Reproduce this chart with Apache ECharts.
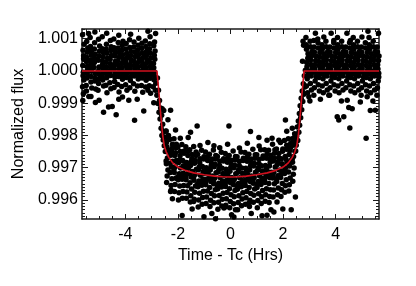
<!DOCTYPE html>
<html><head><meta charset="utf-8">
<script src="https://cdn.jsdelivr.net/npm/echarts@6/dist/echarts.min.js"></script>
<style>html,body{margin:0;padding:0;background:#fff}#c{width:416px;height:286px}</style>
</head><body><div id="c"></div>
<script>
// ---- tick labels ----
const xTickLabels = [-4, -2, 0, 2, 4];
const yTickLabels = [0.996, 0.997, 0.998, 0.999, 1.000, 1.001];
const xRange = [-5.65, 5.65];
const yRange = [0.99541, 1.0013];

// ---- transit model (red curve) ----
const modelTime = [-5.65,-2.80,-2.72,-2.65,-2.58,-2.52,-2.45,-2.35,-2.2,-2.0,-1.7,-1.4,-1.0,-0.6,-0.3,0,0.3,0.6,1.0,1.4,1.7,2.0,2.2,2.35,2.45,2.52,2.58,2.65,2.72,2.80,5.65];
const modelFlux = [1,1,.99930,.99860,.99800,.99768,.99750,.99732,.99715,.99702,.99691,.99684,.99678,.99674,.99672,.99671,.99672,.99674,.99678,.99684,.99691,.99702,.99715,.99732,.99750,.99768,.99800,.99860,.99930,1,1];

// ---- observed flux: before transit ----
const preTransit = [
[-5.63,1.00112],[-5.61,1.00064],[-5.59,1.00038],[-5.62,1.00017],[-5.60,.99996],[-5.58,.99972],[-5.63,.99951],[-5.60,.99929],[-5.57,1.00083],[-5.62,.99908],[-5.59,1.00047],[-5.61,.99985],
[-5.47,1.00091],[-5.45,1.00058],[-5.48,1.00029],[-5.44,1.00003],[-5.46,.99978],[-5.49,.99955],[-5.43,1.00071],[-5.46,1.00014],[-5.48,.99938],[-5.45,.99991],[-5.47,1.00042],[-5.39,.99921],[-5.40,1.00116],
[-5.33,1.00076],[-5.30,1.00049],[-5.32,1.00021],[-5.29,.99999],[-5.31,.99966],[-5.34,1.00104],[-5.28,.99947],[-5.32,1.00034],[-5.30,.99983],[-5.33,1.00008],[-5.29,1.00062],[-5.31,.99921],
[-5.17,1.00087],[-5.15,1.00052],[-5.18,1.00026],[-5.14,.99992],[-5.16,.99969],[-5.19,1.00011],[-5.13,.99944],[-5.17,1.00039],[-5.15,.99977],[-5.18,1.00068],[-5.14,.99902],[-5.16,1.00121],
[-5.02,1.00098],[-4.99,1.00061],[-5.03,1.00033],[-5.00,1.00012],[-4.98,.99988],[-5.02,.99961],[-5.04,.99940],[-5.00,1.00046],[-4.98,1.00077],[-5.03,.99999],[-5.01,.99975],[-5.00,.99909],
[-4.88,1.00069],[-4.85,1.00044],[-4.87,1.00019],[-4.84,.99994],[-4.86,.99972],[-4.88,1.00106],[-4.83,.99953],[-4.87,1.00031],[-4.85,1.00005],[-4.88,.99984],[-4.84,1.00057],[-4.83,.99872],
[-4.72,1.00083],[-4.70,1.00055],[-4.73,1.00027],[-4.69,1.00001],[-4.71,.99979],[-4.74,.99956],[-4.68,1.00039],[-4.72,1.00013],[-4.70,.99932],[-4.73,1.00068],[-4.69,.99990],[-4.71,1.00117],[-4.64,.99888],
[-4.57,1.00094],[-4.55,1.00063],[-4.58,1.00036],[-4.54,1.00009],[-4.56,.99986],[-4.59,.99963],[-4.53,1.00048],[-4.57,1.00022],[-4.55,.99945],[-4.58,.99998],[-4.54,1.00075],[-4.50,.99890],
[-4.43,1.00072],[-4.40,1.00046],[-4.42,1.00018],[-4.39,.99993],[-4.41,.99967],[-4.44,1.00099],[-4.38,1.00030],[-4.42,1.00006],[-4.40,.99981],[-4.43,.99949],[-4.39,1.00059],[-4.35,.99864],
[-4.27,1.00088],[-4.25,1.00057],[-4.28,1.00032],[-4.24,1.00007],[-4.26,.99983],[-4.29,.99958],[-4.23,1.00043],[-4.27,1.00019],[-4.25,.99994],[-4.28,1.00071],[-4.24,.99935],[-4.25,1.00111],[-4.25,.99912],
[-4.12,1.00079],[-4.10,1.00050],[-4.13,1.00024],[-4.09,.99997],[-4.11,.99974],[-4.14,.99952],[-4.08,1.00037],[-4.12,1.00011],[-4.10,.99986],[-4.13,1.00064],[-4.09,1.00092],[-4.11,.99919],
[-3.97,1.00085],[-3.95,1.00054],[-3.98,1.00028],[-3.94,1.00004],[-3.96,.99980],[-3.99,.99957],[-3.93,1.00041],[-3.97,1.00016],[-3.95,.99991],[-3.98,1.00068],[-3.94,.99940],[-3.87,.99909],
[-3.83,1.00073],[-3.80,1.00047],[-3.82,1.00020],[-3.79,.99995],[-3.81,.99970],[-3.84,1.00097],[-3.78,1.00033],[-3.82,1.00008],[-3.80,.99982],[-3.83,.99948],[-3.79,1.00060],[-3.80,1.00114],
[-3.67,1.00090],[-3.65,1.00059],[-3.68,1.00031],[-3.64,1.00006],[-3.66,.99984],[-3.69,.99960],[-3.63,1.00045],[-3.67,1.00017],[-3.65,.99993],[-3.68,1.00074],[-3.64,.99937],[-3.65,.99847],
[-3.52,1.00080],[-3.50,1.00051],[-3.53,1.00025],[-3.49,.99998],[-3.51,.99975],[-3.54,.99953],[-3.48,1.00038],[-3.52,1.00012],[-3.50,.99987],[-3.53,1.00065],[-3.49,1.00101],[-3.55,.99912],
[-3.37,1.00086],[-3.35,1.00056],[-3.38,1.00029],[-3.34,1.00002],[-3.36,.99978],[-3.39,.99955],[-3.33,1.00042],[-3.37,1.00015],[-3.35,.99990],[-3.38,1.00070],[-3.34,.99934],[-3.30,.99876],
[-3.22,1.00076],[-3.20,1.00048],[-3.23,1.00022],[-3.19,.99996],[-3.21,.99971],[-3.24,1.00093],[-3.18,1.00035],[-3.22,1.00009],[-3.20,.99984],[-3.23,.99950],[-3.19,1.00061],[-3.14,1.00123],[-3.14,.99940],
[-3.07,1.00084],[-3.05,1.00055],[-3.08,1.00027],[-3.04,1.00001],[-3.06,.99977],[-3.09,.99954],[-3.03,1.00040],[-3.07,1.00014],[-3.05,.99989],[-3.08,1.00069],[-3.04,.99931],[-3.06,1.00106],
[-2.92,1.00078],[-2.90,1.00049],[-2.93,1.00023],[-2.89,.99997],[-2.91,.99973],[-2.94,.99951],[-2.88,1.00036],[-2.92,1.00010],[-2.90,.99985],[-2.87,1.00062],[-2.86,.99940],[-2.89,1.00090],[-2.92,.99901],[-2.85,1.00116]
];

// ---- ingress ----
const ingress = [
[-2.84,.99962],[-2.80,.99925],[-2.78,.99978],[-2.76,.99899],[-2.74,.99940],[-2.72,.99872],[-2.70,.99908],[-2.68,.99851],[-2.66,.99885],[-2.64,.99822],[-2.62,.99863],[-2.60,.99883],[-2.61,.99800],[-2.58,.99835],[-2.56,.99786],[-2.55,.99812],[-2.54,.99877],[-2.52,.99768],[-2.50,.99795],[-2.48,.99750],[-2.38,.99849],[-2.28,.99878],[-2.09,.99817],[-2.46,.99813],[-2.44,.99778]
];

// ---- in transit ----
const inTransit = [
[-2.45,.99814],[-2.37,.99787],[-2.42,.99765],[-2.35,.99747],[-2.40,.99730],[-2.44,.99712],[-2.38,.99693],[-2.41,.99674],[-2.36,.99800],[-2.43,.99654],[-2.39,.99756],[-2.45,.99721],
[-2.30,.99788],[-2.22,.99760],[-2.27,.99739],[-2.20,.99720],[-2.25,.99703],[-2.29,.99685],[-2.23,.99666],[-2.26,.99645],[-2.21,.99773],[-2.28,.99626],[-2.24,.99751],[-2.30,.99714],[-2.21,.99604],[-2.26,.99630],
[-2.15,.99790],[-2.07,.99762],[-2.12,.99738],[-2.05,.99719],[-2.10,.99703],[-2.14,.99685],[-2.08,.99667],[-2.11,.99648],[-2.06,.99773],[-2.13,.99626],[-2.09,.99746],[-2.15,.99695],[-2.06,.99722],
[-2.00,.99764],[-1.92,.99737],[-1.97,.99716],[-1.90,.99699],[-1.95,.99681],[-1.99,.99663],[-1.93,.99643],[-1.96,.99622],[-1.91,.99750],[-1.98,.99600],[-1.94,.99724],[-2.00,.99672],[-1.91,.99791],
[-1.85,.99772],[-1.77,.99745],[-1.82,.99722],[-1.75,.99700],[-1.80,.99683],[-1.84,.99664],[-1.78,.99645],[-1.81,.99626],[-1.76,.99752],[-1.83,.99605],[-1.79,.99706],[-1.85,.99671],[-1.84,.99552],
[-1.70,.99765],[-1.62,.99738],[-1.67,.99716],[-1.60,.99698],[-1.65,.99681],[-1.69,.99663],[-1.63,.99644],[-1.66,.99625],[-1.61,.99751],[-1.68,.99605],[-1.64,.99707],[-1.70,.99672],[-1.61,.99794],
[-1.55,.99756],[-1.47,.99728],[-1.52,.99707],[-1.45,.99688],[-1.50,.99671],[-1.54,.99653],[-1.48,.99634],[-1.51,.99613],[-1.46,.99741],[-1.53,.99594],[-1.49,.99719],[-1.55,.99682],[-1.46,.99572],[-1.52,.99810],
[-1.40,.99766],[-1.32,.99738],[-1.37,.99714],[-1.30,.99695],[-1.35,.99679],[-1.39,.99661],[-1.33,.99643],[-1.36,.99624],[-1.31,.99749],[-1.38,.99602],[-1.34,.99722],[-1.40,.99671],[-1.40,.99595],[-1.27,.99829],
[-1.25,.99742],[-1.17,.99715],[-1.22,.99694],[-1.15,.99677],[-1.20,.99659],[-1.24,.99641],[-1.18,.99621],[-1.21,.99600],[-1.16,.99728],[-1.23,.99578],[-1.19,.99702],[-1.25,.99650],[-1.16,.99769],
[-1.10,.99754],[-1.02,.99727],[-1.07,.99704],[-1.00,.99682],[-1.05,.99665],[-1.09,.99646],[-1.03,.99627],[-1.06,.99608],[-1.01,.99734],[-1.08,.99587],[-1.04,.99688],[-1.10,.99653],[-1.01,.99548],
[-0.95,.99749],[-0.87,.99722],[-0.92,.99700],[-0.85,.99682],[-0.90,.99665],[-0.94,.99647],[-0.88,.99628],[-0.91,.99609],[-0.86,.99735],[-0.93,.99589],[-0.89,.99691],[-0.95,.99656],[-0.86,.99778],
[-0.80,.99742],[-0.72,.99714],[-0.77,.99693],[-0.70,.99674],[-0.75,.99657],[-0.79,.99639],[-0.73,.99620],[-0.76,.99599],[-0.71,.99727],[-0.78,.99580],[-0.74,.99705],[-0.80,.99668],[-0.71,.99558],
[-0.65,.99755],[-0.57,.99727],[-0.62,.99703],[-0.55,.99684],[-0.60,.99668],[-0.64,.99650],[-0.58,.99632],[-0.61,.99613],[-0.56,.99738],[-0.63,.99591],[-0.59,.99711],[-0.65,.99660],[-0.57,.99542],[-0.63,.99768],
[-0.50,.99735],[-0.42,.99708],[-0.47,.99687],[-0.40,.99670],[-0.45,.99652],[-0.49,.99634],[-0.43,.99614],[-0.46,.99593],[-0.41,.99721],[-0.48,.99571],[-0.44,.99695],[-0.50,.99643],[-0.41,.99762],
[-0.35,.99748],[-0.27,.99721],[-0.32,.99698],[-0.25,.99676],[-0.30,.99659],[-0.34,.99640],[-0.28,.99621],[-0.31,.99602],[-0.26,.99728],[-0.33,.99581],[-0.29,.99682],[-0.35,.99647],[-0.25,.99575],
[-0.20,.99744],[-0.12,.99717],[-0.17,.99695],[-0.10,.99677],[-0.15,.99660],[-0.19,.99642],[-0.13,.99623],[-0.16,.99604],[-0.11,.99730],[-0.18,.99584],[-0.14,.99686],[-0.20,.99651],[-0.11,.99773],[-0.19,.99579],
[-0.05,.99738],[0.03,.99710],[-0.02,.99689],[0.05,.99670],[0.00,.99653],[-0.04,.99635],[0.02,.99616],[-0.01,.99595],[0.04,.99723],[-0.03,.99576],[0.01,.99701],[-0.05,.99664],[0.04,.99554],[-0.06,.99829],
[0.10,.99752],[0.18,.99724],[0.13,.99700],[0.20,.99681],[0.15,.99665],[0.11,.99647],[0.17,.99629],[0.14,.99610],[0.19,.99735],[0.12,.99588],[0.16,.99708],[0.10,.99657],[0.13,.99547],[0.19,.99570],
[0.25,.99734],[0.33,.99707],[0.28,.99686],[0.35,.99669],[0.30,.99651],[0.26,.99633],[0.32,.99613],[0.29,.99592],[0.34,.99720],[0.27,.99570],[0.31,.99694],[0.25,.99642],[0.34,.99761],
[0.40,.99749],[0.48,.99722],[0.43,.99699],[0.50,.99677],[0.45,.99660],[0.41,.99641],[0.47,.99622],[0.44,.99603],[0.49,.99729],[0.42,.99582],[0.46,.99683],[0.40,.99648],
[0.55,.99747],[0.63,.99720],[0.58,.99698],[0.65,.99680],[0.60,.99663],[0.56,.99645],[0.62,.99626],[0.59,.99607],[0.64,.99733],[0.57,.99587],[0.61,.99689],[0.55,.99654],[0.64,.99776],[0.70,.99590],
[0.70,.99742],[0.78,.99714],[0.73,.99693],[0.80,.99674],[0.75,.99657],[0.71,.99639],[0.77,.99620],[0.74,.99599],[0.79,.99727],[0.72,.99580],[0.76,.99705],[0.70,.99668],[0.79,.99558],[0.76,.99812],
[0.85,.99757],[0.93,.99729],[0.88,.99705],[0.95,.99686],[0.90,.99670],[0.86,.99652],[0.92,.99634],[0.89,.99615],[0.94,.99740],[0.87,.99593],[0.91,.99713],[0.85,.99662],
[1.00,.99740],[1.08,.99713],[1.03,.99692],[1.10,.99675],[1.05,.99657],[1.01,.99639],[1.07,.99619],[1.04,.99598],[1.09,.99726],[1.02,.99576],[1.06,.99700],[1.00,.99648],[1.09,.99767],[1.08,.99794],
[1.15,.99756],[1.23,.99729],[1.18,.99706],[1.25,.99684],[1.20,.99667],[1.16,.99648],[1.22,.99629],[1.19,.99610],[1.24,.99736],[1.17,.99589],[1.21,.99690],[1.15,.99655],[1.20,.99551],
[1.30,.99756],[1.38,.99729],[1.33,.99707],[1.40,.99689],[1.35,.99672],[1.31,.99654],[1.37,.99635],[1.34,.99616],[1.39,.99742],[1.32,.99596],[1.36,.99698],[1.30,.99663],[1.39,.99785],[1.39,.99553],
[1.45,.99754],[1.53,.99726],[1.48,.99705],[1.55,.99686],[1.50,.99669],[1.46,.99651],[1.52,.99632],[1.49,.99611],[1.54,.99739],[1.47,.99592],[1.51,.99717],[1.45,.99680],[1.54,.99570],
[1.60,.99773],[1.68,.99745],[1.63,.99721],[1.70,.99702],[1.65,.99686],[1.61,.99668],[1.67,.99650],[1.64,.99631],[1.69,.99756],[1.62,.99609],[1.66,.99729],[1.60,.99678],[1.65,.99563],[1.58,.99791],
[1.75,.99758],[1.83,.99731],[1.78,.99710],[1.85,.99693],[1.80,.99675],[1.76,.99657],[1.82,.99637],[1.79,.99616],[1.84,.99744],[1.77,.99594],[1.81,.99718],[1.75,.99666],[1.84,.99785],
[1.90,.99778],[1.98,.99751],[1.93,.99728],[2.00,.99706],[1.95,.99689],[1.91,.99670],[1.97,.99651],[1.94,.99632],[1.99,.99758],[1.92,.99611],[1.96,.99712],[1.90,.99677],[1.99,.99572],
[2.05,.99784],[2.13,.99757],[2.08,.99735],[2.15,.99717],[2.10,.99700],[2.06,.99682],[2.12,.99663],[2.09,.99644],[2.14,.99770],[2.07,.99624],[2.11,.99726],[2.05,.99691],[2.14,.99813],
[2.20,.99790],[2.28,.99762],[2.23,.99741],[2.30,.99722],[2.25,.99705],[2.21,.99687],[2.27,.99668],[2.24,.99647],[2.29,.99775],[2.22,.99628],[2.26,.99753],[2.20,.99716],[2.31,.99570],
[2.35,.99822],[2.43,.99794],[2.38,.99770],[2.45,.99751],[2.40,.99735],[2.36,.99717],[2.42,.99699],[2.39,.99680],[2.44,.99805],[2.37,.99658],[2.41,.99778],[2.35,.99727],[2.47,.99609]
];

// ---- egress ----
const egress = [
[2.50,.99770],[2.52,.99798],[2.54,.99826],[2.56,.99784],[2.58,.99845],[2.60,.99810],[2.62,.99868],[2.63,.99832],[2.65,.99892],[2.67,.99855],[2.69,.99915],[2.71,.99880],[2.73,.99938],[2.75,.99905],[2.77,.99960],[2.79,.99928],[2.81,.99985],[2.83,.99950],[2.85,1.00002],[2.48,.99752],[2.46,.99790],[2.35,.99790],[2.09,.99848]
];

// ---- after transit ----
const postTransit = [
[2.88,1.00081],[2.95,1.00053],[2.90,1.00026],[2.97,1.00000],[2.92,.99976],[2.89,.99953],[2.94,1.00039],[2.91,1.00013],[2.96,.99988],[2.89,1.00067],[2.93,.99932],[2.87,1.00104],[2.98,.99920],[2.78,1.00080],[2.76,1.00092],[2.74,1.00030],
[3.03,1.00092],[3.10,1.00060],[3.05,1.00034],[3.12,1.00008],[3.07,.99984],[3.04,.99961],[3.09,1.00047],[3.06,1.00020],[3.11,.99995],[3.04,1.00075],[3.08,.99941],[3.02,.99907],[3.17,1.00094],
[3.18,1.00074],[3.25,1.00046],[3.20,1.00019],[3.27,.99993],[3.22,.99969],[3.19,.99948],[3.24,1.00032],[3.21,1.00006],[3.26,.99981],[3.19,1.00059],[3.23,1.00117],[3.17,.99925],
[3.33,1.00087],[3.40,1.00057],[3.35,1.00030],[3.42,1.00004],[3.37,.99980],[3.34,.99957],[3.39,1.00043],[3.36,1.00017],[3.41,.99991],[3.34,1.00071],[3.38,.99938],[3.32,1.00099],[3.42,.99912],
[3.48,1.00081],[3.55,1.00053],[3.50,1.00026],[3.57,1.00000],[3.52,.99976],[3.49,.99953],[3.54,1.00039],[3.51,1.00013],[3.56,.99988],[3.49,1.00067],[3.53,.99932],[3.55,1.00105],
[3.63,1.00092],[3.70,1.00060],[3.65,1.00034],[3.72,1.00008],[3.67,.99984],[3.64,.99961],[3.69,1.00047],[3.66,1.00020],[3.71,.99995],[3.64,1.00075],[3.68,.99941],[3.74,.99925],
[3.78,1.00074],[3.85,1.00046],[3.80,1.00019],[3.87,.99993],[3.82,.99969],[3.79,.99948],[3.84,1.00032],[3.81,1.00006],[3.86,.99981],[3.79,1.00059],[3.83,1.00117],[3.77,.99925],
[3.93,1.00087],[4.00,1.00057],[3.95,1.00030],[4.02,1.00004],[3.97,.99980],[3.94,.99957],[3.99,1.00043],[3.96,1.00017],[4.01,.99991],[3.94,1.00071],[3.98,.99938],[3.93,1.00094],[4.06,.99858],
[4.08,1.00081],[4.15,1.00053],[4.10,1.00026],[4.17,1.00000],[4.12,.99976],[4.09,.99953],[4.14,1.00039],[4.11,1.00013],[4.16,.99988],[4.09,1.00067],[4.13,.99932],[4.07,1.00104],[4.12,.99848],
[4.23,1.00092],[4.30,1.00060],[4.25,1.00034],[4.32,1.00008],[4.27,.99984],[4.24,.99961],[4.29,1.00047],[4.26,1.00020],[4.31,.99995],[4.24,1.00075],[4.28,.99941],[4.22,.99907],[4.31,.99858],
[4.38,1.00074],[4.45,1.00046],[4.40,1.00019],[4.47,.99993],[4.42,.99969],[4.39,.99948],[4.44,1.00032],[4.41,1.00006],[4.46,.99981],[4.39,1.00059],[4.43,1.00117],[4.44,.99909],
[4.53,1.00087],[4.60,1.00057],[4.55,1.00030],[4.62,1.00004],[4.57,.99980],[4.54,.99957],[4.59,1.00043],[4.56,1.00017],[4.61,.99991],[4.54,1.00071],[4.58,.99938],[4.56,1.00094],[4.63,.99883],[4.50,.99887],[4.54,.99823],
[4.68,1.00081],[4.75,1.00053],[4.70,1.00026],[4.77,1.00000],[4.72,.99976],[4.69,.99953],[4.74,1.00039],[4.71,1.00013],[4.76,.99988],[4.69,1.00067],[4.73,.99932],[4.67,1.00104],
[4.83,1.00092],[4.90,1.00060],[4.85,1.00034],[4.92,1.00008],[4.87,.99984],[4.84,.99961],[4.89,1.00047],[4.86,1.00020],[4.91,.99995],[4.84,1.00075],[4.88,.99941],[4.94,.99904],
[4.98,1.00074],[5.05,1.00046],[5.00,1.00019],[5.07,.99993],[5.02,.99969],[4.99,.99948],[5.04,1.00032],[5.01,1.00006],[5.06,.99981],[4.99,1.00059],[5.00,1.00105],[4.97,.99925],
[5.13,1.00087],[5.20,1.00057],[5.15,1.00030],[5.22,1.00004],[5.17,.99980],[5.14,.99957],[5.19,1.00043],[5.16,1.00017],[5.21,.99991],[5.14,1.00071],[5.18,.99938],[5.23,1.00123],[5.20,.99920],[5.16,.99791],
[5.28,1.00081],[5.35,1.00053],[5.30,1.00026],[5.37,1.00000],[5.32,.99976],[5.29,.99953],[5.34,1.00039],[5.31,1.00013],[5.36,.99988],[5.29,1.00067],[5.33,.99932],[5.27,1.00104],[5.32,.99877],
[5.43,1.00092],[5.50,1.00060],[5.45,1.00034],[5.52,1.00008],[5.47,.99984],[5.44,.99961],[5.49,1.00047],[5.46,1.00020],[5.51,.99995],[5.44,1.00075],[5.48,.99941],[5.42,.99907],[5.51,.99878],
[5.58,1.00074],[5.65,1.00046],[5.60,1.00019],[5.64,.99993],[5.62,.99969],[5.59,.99948],[5.63,1.00032],[5.61,1.00006],[5.64,.99981],[5.59,1.00059],[5.63,1.00117],[5.57,.99925]
];

// minor tick positions
const xMinor = []; for (let i = -11; i <= 11; i++) xMinor.push(i * 0.5);
const yMinor = []; for (let i = 9955; i <= 10013; i++) yMinor.push(i / 10000);

const FONT = '"Liberation Sans", Arial, Helvetica, sans-serif';
const AX = '#1a1a1a';

function xAx(pos, ticks, len, labels, line) {
  return {
    type: 'value', position: pos, min: xRange[0], max: xRange[1],
    axisLine: { show: line, onZero: false, lineStyle: { color: AX, width: 1.5 } },
    splitLine: { show: false },
    axisTick: { show: true, inside: true, length: len, customValues: ticks, lineStyle: { color: AX, width: 1 } },
    axisLabel: labels ? { show: true, customValues: xTickLabels, fontSize: 16, color: '#000', fontFamily: FONT, margin: 8, formatter: v => String(v) } : { show: false },
    name: labels ? 'Time - Tc (Hrs)' : '', nameLocation: 'middle', nameGap: 26,
    nameTextStyle: { fontSize: 16, color: '#000', fontFamily: FONT }
  };
}
function yAx(pos, ticks, len, labels, line) {
  return {
    type: 'value', position: pos, min: yRange[0], max: yRange[1],
    axisLine: { show: line, onZero: false, lineStyle: { color: AX, width: 1.5 } },
    splitLine: { show: false },
    axisTick: { show: true, inside: true, length: len, customValues: ticks, lineStyle: { color: AX, width: 1 } },
    axisLabel: labels ? { show: true, customValues: yTickLabels, fontSize: 16, color: '#000', fontFamily: FONT, margin: 4, formatter: v => v.toFixed(3) } : { show: false },
    name: labels ? 'Normalized flux' : '', nameLocation: 'middle', nameGap: 52,
    nameTextStyle: { fontSize: 16, color: '#000', fontFamily: FONT }
  };
}

const chart = echarts.init(document.getElementById('c'), null, { renderer: 'canvas' });
const scatterStyle = { symbol: 'circle', symbolSize: 5.5, itemStyle: { color: '#000', opacity: 1 }, xAxisIndex: 0, yAxisIndex: 0, animation: false, silent: true };
chart.setOption({
  animation: false,
  backgroundColor: '#fff',
  grid: { left: 82, right: 37, top: 29, bottom: 67, containLabel: false },
  xAxis: [xAx('bottom', xTickLabels, 5, true, true), xAx('top', xTickLabels, 5, false, true), xAx('bottom', xMinor, 3, false, false), xAx('top', xMinor, 3, false, false)],
  yAxis: [yAx('left', yTickLabels, 6, true, true), yAx('right', yTickLabels, 6, false, true), yAx('left', yMinor, 3, false, false), yAx('right', yMinor, 3, false, false)],
  series: [
    Object.assign({ type: 'scatter', data: preTransit }, scatterStyle),
    Object.assign({ type: 'scatter', data: ingress }, scatterStyle),
    Object.assign({ type: 'scatter', data: inTransit }, scatterStyle),
    Object.assign({ type: 'scatter', data: egress }, scatterStyle),
    Object.assign({ type: 'scatter', data: postTransit }, scatterStyle),
    { type: 'line', data: modelTime.map((t, i) => [t, modelFlux[i]]), xAxisIndex: 0, yAxisIndex: 0, showSymbol: false, symbol: 'none', z: 10,
      lineStyle: { color: '#d0101e', width: 1.6 }, animation: false, silent: true }
  ]
});
</script></body></html>
